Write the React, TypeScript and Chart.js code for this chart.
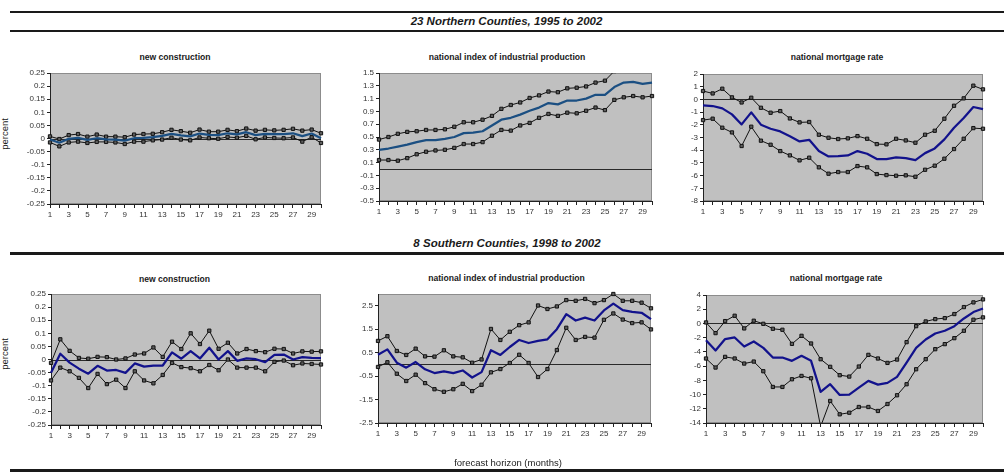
import React, { useEffect, useRef } from "react";
import { Chart, registerables } from "chart.js";

Chart.register(...registerables);
Chart.defaults.font.family = "'Liberation Sans', Arial, sans-serif";

// Forecast horizon in months
const horizon = [
  "1", "2", "3", "4", "5", "6", "7", "8", "9", "10",
  "11", "12", "13", "14", "15", "16", "17", "18", "19", "20",
  "21", "22", "23", "24", "25", "26", "27", "28", "29", "30",
];

// ---- 23 Northern Counties, 1995 to 2002 ----
const northConstrUpper = [0.008, -0.002, 0.013, 0.017, 0.007, 0.015, 0.007, 0.007, 0.005, 0.015, 0.017, 0.018, 0.024, 0.033, 0.028, 0.022, 0.034, 0.026, 0.026, 0.033, 0.028, 0.038, 0.03, 0.033, 0.031, 0.033, 0.037, 0.03, 0.034, 0.02];
const northConstrMid = [-0.004, -0.016, -0.001, 0.002, -0.005, 0.001, -0.003, -0.004, -0.008, 0.001, 0.002, 0.005, 0.01, 0.018, 0.012, 0.008, 0.019, 0.014, 0.013, 0.02, 0.016, 0.024, 0.013, 0.018, 0.017, 0.017, 0.02, 0.009, 0.019, 0.001];
const northConstrLower = [-0.015, -0.03, -0.015, -0.012, -0.017, -0.013, -0.013, -0.015, -0.021, -0.012, -0.012, -0.007, -0.004, 0.003, -0.004, -0.007, 0.004, 0.001, -0.001, 0.006, 0.003, 0.01, -0.003, 0.004, 0.002, 0.001, 0.004, -0.012, 0.005, -0.017];

const northIndUpper = [0.46, 0.5, 0.55, 0.58, 0.59, 0.61, 0.61, 0.62, 0.66, 0.73, 0.73, 0.77, 0.83, 0.94, 1.0, 1.04, 1.11, 1.15, 1.21, 1.2, 1.26, 1.27, 1.29, 1.35, 1.38, 1.53, 1.6, 1.62, 1.58, 1.6];
const northIndMid = [0.3, 0.32, 0.35, 0.38, 0.42, 0.45, 0.45, 0.47, 0.5, 0.56, 0.57, 0.59, 0.68, 0.77, 0.8, 0.85, 0.91, 0.96, 1.03, 1.01, 1.07, 1.07, 1.1, 1.16, 1.16, 1.28, 1.35, 1.36, 1.33, 1.35];
const northIndLower = [0.14, 0.14, 0.13, 0.17, 0.23, 0.27, 0.29, 0.3, 0.33, 0.39, 0.39, 0.42, 0.52, 0.61, 0.6, 0.68, 0.72, 0.8, 0.86, 0.83, 0.88, 0.87, 0.91, 0.96, 0.92, 1.08, 1.12, 1.14, 1.12, 1.14];

const northMortUpper = [0.66, 0.47, 0.84, 0.16, -0.24, 0.13, -0.66, -1.05, -0.92, -1.5, -1.81, -1.78, -2.78, -3.02, -3.12, -3.07, -2.89, -3.1, -3.52, -3.54, -3.1, -3.23, -3.41, -2.78, -2.47, -1.52, -0.5, 0.08, 1.08, 0.79];
const northMortMid = [-0.47, -0.52, -0.71, -1.18, -1.97, -1.02, -1.99, -2.31, -2.52, -2.91, -3.31, -3.18, -4.07, -4.49, -4.46, -4.41, -4.07, -4.28, -4.7, -4.7, -4.57, -4.62, -4.78, -4.23, -3.86, -3.15, -2.23, -1.47, -0.6, -0.76];
const northMortLower = [-1.63, -1.52, -2.23, -2.6, -3.67, -2.15, -3.25, -3.57, -4.07, -4.41, -4.8, -4.59, -5.35, -5.85, -5.72, -5.72, -5.25, -5.35, -5.88, -5.96, -6.01, -5.98, -6.09, -5.54, -5.22, -4.67, -3.91, -3.1, -2.26, -2.31];

// ---- 8 Southern Counties, 1998 to 2002 ----
const southConstrUpper = [-0.013, 0.077, 0.033, 0.006, 0.003, 0.01, 0.009, 0, 0.004, 0.019, 0.023, 0.046, 0.01, 0.068, 0.04, 0.1, 0.059, 0.11, 0.041, 0.064, 0.023, 0.04, 0.032, 0.028, 0.041, 0.04, 0.023, 0.031, 0.03, 0.031];
const southConstrMid = [-0.051, 0.022, -0.012, -0.035, -0.054, -0.024, -0.042, -0.04, -0.051, -0.015, -0.027, -0.023, -0.023, 0.027, 0.003, 0.032, 0.004, 0.045, 0, 0.032, -0.005, 0.004, 0.001, -0.01, 0.018, 0.019, 0, 0.009, 0.006, 0.005];
const southConstrLower = [-0.08, -0.031, -0.045, -0.07, -0.109, -0.055, -0.094, -0.077, -0.109, -0.045, -0.08, -0.091, -0.059, -0.013, -0.029, -0.033, -0.045, -0.021, -0.041, 0, -0.031, -0.031, -0.031, -0.045, -0.009, -0.004, -0.022, -0.015, -0.017, -0.019];

const southIndUpper = [1.0, 1.2, 0.57, 0.4, 0.67, 0.34, 0.33, 0.6, 0.34, 0.3, 0.07, 0.21, 1.51, 1.04, 1.39, 1.67, 1.79, 2.51, 2.36, 2.47, 2.74, 2.71, 2.79, 2.61, 2.74, 3.0, 2.71, 2.71, 2.63, 2.39];
const southIndMid = [0.41, 0.64, 0.07, -0.14, 0.1, -0.21, -0.37, -0.3, -0.37, -0.26, -0.56, -0.33, 0.6, 0.4, 0.74, 1.04, 0.91, 1.0, 1.07, 1.5, 2.14, 1.87, 1.99, 1.87, 2.3, 2.59, 2.31, 2.24, 2.2, 1.93];
const southIndLower = [-0.11, 0.09, -0.4, -0.71, -0.44, -0.8, -1.06, -1.17, -1.06, -0.83, -1.14, -0.87, -0.34, -0.2, 0.06, 0.41, 0.06, -0.54, -0.2, 0.61, 1.56, 1.04, 1.17, 1.14, 1.9, 2.17, 1.91, 1.76, 1.79, 1.49];

const southMortUpper = [0.14, -1.36, 0.33, 1.08, -0.7, 0.38, -0.05, -0.75, -0.89, -2.87, -1.74, -2.82, -5.03, -6.1, -7.28, -7.47, -6.06, -4.42, -4.93, -5.55, -5.08, -2.63, -0.38, 0.28, 0.61, 0.75, 1.32, 2.3, 2.96, 3.38];
const southMortMid = [-2.35, -3.8, -2.2, -1.97, -3.24, -2.54, -3.43, -4.79, -4.79, -5.26, -4.56, -5.26, -9.63, -8.55, -10.05, -10.0, -9.02, -8.08, -8.6, -8.36, -7.52, -5.5, -3.43, -2.26, -1.41, -1.03, -0.38, 0.7, 1.6, 2.11];
const southMortLower = [-4.93, -6.2, -4.7, -4.93, -5.64, -5.36, -6.72, -8.93, -8.93, -7.85, -7.38, -7.71, -14.5, -10.9, -12.78, -12.55, -11.75, -11.75, -12.31, -11.33, -10.1, -8.55, -6.44, -5.03, -3.62, -2.91, -2.07, -1.03, 0.52, 0.85];

// ---- Value-axis tick labels ----
const constrTicks = [-0.25, -0.2, -0.15, -0.1, -0.05, 0, 0.05, 0.1, 0.15, 0.2, 0.25];
const northIndTicks = [-0.5, -0.3, -0.1, 0.1, 0.3, 0.5, 0.7, 0.9, 1.1, 1.3, 1.5];
const northMortTicks = [-8, -7, -6, -5, -4, -3, -2, -1, 0, 1, 2];
const southIndTicks = [-2.5, -1.5, -0.5, 0.5, 1.5, 2.5];
const southMortTicks = [-14, -12, -10, -8, -6, -4, -2, 0, 2, 4];

const TEAL_BLUE = "#1b4f82";
const NAVY = "#12128c";
const TEXT = "#1a1a1a";

// Gray plot area, frame and zero reference line
const plotFrame = {
  id: "plotFrame",
  beforeDraw(chart: any) {
    const { ctx, chartArea: a } = chart;
    ctx.save();
    ctx.fillStyle = "#c0c0c0";
    ctx.fillRect(a.left, a.top, a.right - a.left, a.bottom - a.top);
    ctx.strokeStyle = "#8c8c8c";
    ctx.lineWidth = 1;
    ctx.strokeRect(a.left + 0.5, a.top + 0.5, a.right - a.left - 1, a.bottom - a.top - 1);
    ctx.restore();
  },
  beforeDatasetsDraw(chart: any) {
    const { ctx, chartArea: a } = chart;
    const y = chart.scales.y;
    if (0 > y.min && 0 < y.max) {
      const py = Math.round(y.getPixelForValue(0)) + 0.5;
      ctx.save();
      ctx.strokeStyle = "#2a2a2a";
      ctx.lineWidth = 1;
      ctx.beginPath();
      ctx.moveTo(a.left, py);
      ctx.lineTo(a.right, py);
      ctx.stroke();
      ctx.restore();
    }
  },
};

type Box = { left: number; top: number; right: number; bottom: number };

type PanelProps = {
  box: Box;
  upper: number[];
  mid: number[];
  lower: number[];
  min: number;
  max: number;
  ticks: number[];
  midColor: string;
  clipTop: number;
};

const YW = 48; // value-axis width
const XH = 22; // category-axis height
const PT = 8; // top padding
const PR = 10; // right padding

function Panel({ box, upper, mid, lower, min, max, ticks, midColor, clipTop }: PanelProps) {
  const ref = useRef<HTMLCanvasElement>(null);
  const width = box.right - box.left + YW + PR;
  const height = box.bottom - box.top + PT + XH;

  useEffect(() => {
    const clip = { left: 6, right: 6, top: clipTop, bottom: 0 };
    const bandStyle = {
      borderColor: "#111",
      borderWidth: 1,
      pointStyle: "rect" as const,
      pointRadius: 2.3,
      pointBackgroundColor: "#5e5e5e",
      pointBorderColor: "#111",
      pointBorderWidth: 1,
      tension: 0,
      clip,
    };
    const tickFont = { size: 8 };
    const chart = new Chart(ref.current as HTMLCanvasElement, {
      type: "line",
      data: {
        labels: horizon,
        datasets: [
          {
            data: mid,
            borderColor: midColor,
            borderWidth: 2.25,
            borderJoinStyle: "round",
            pointRadius: 0,
            tension: 0,
            clip,
          },
          { data: upper, ...bandStyle },
          { data: lower, ...bandStyle },
        ],
      },
      options: {
        animation: false,
        responsive: false,
        events: [],
        layout: { padding: { top: PT, right: PR, left: 0, bottom: 0 } },
        plugins: { legend: { display: false }, tooltip: { enabled: false }, title: { display: false } },
        scales: {
          x: {
            type: "category",
            offset: false,
            grid: { drawOnChartArea: false, drawTicks: true, tickLength: 4, tickColor: "#222" },
            border: { display: true, color: "#222", width: 1 },
            ticks: {
              autoSkip: false,
              maxRotation: 0,
              minRotation: 0,
              padding: 2,
              color: "#333",
              font: tickFont,
              callback: (_v: any, i: number) => (i % 2 === 0 ? horizon[i] : ""),
            },
            afterFit: (s: any) => {
              s.height = XH;
            },
          },
          y: {
            min,
            max,
            grid: { drawOnChartArea: false, drawTicks: true, tickLength: 3, tickColor: "#222" },
            border: { display: true, color: "#222", width: 1 },
            ticks: {
              padding: 2,
              color: "#333",
              font: tickFont,
              callback: (v: any) => String(v),
            },
            afterBuildTicks: (s: any) => {
              s.ticks = ticks.map((v) => ({ value: v }));
            },
            afterFit: (s: any) => {
              s.width = YW;
            },
          },
        },
      } as any,
      plugins: [plotFrame],
    });
    return () => chart.destroy();
  }, []);

  return (
    <canvas
      ref={ref}
      width={width}
      height={height}
      style={{ position: "absolute", left: box.left - YW, top: box.top - PT, width, height }}
    />
  );
}

function Rule({ top, height }: { top: number; height: number }) {
  return (
    <div style={{ position: "absolute", left: 10, width: 994, top, height, background: "#1a1a1a" }} />
  );
}

function Label({
  x,
  y,
  text,
  size,
  bold,
  italic,
  rotate,
}: {
  x: number;
  y: number;
  text: string;
  size: number;
  bold?: boolean;
  italic?: boolean;
  rotate?: boolean;
}) {
  return (
    <div
      style={{
        position: "absolute",
        left: x,
        top: y,
        transform: `translate(-50%, -50%)${rotate ? " rotate(-90deg)" : ""}`,
        whiteSpace: "nowrap",
        fontSize: size,
        lineHeight: 1,
        fontWeight: bold ? 700 : 400,
        fontStyle: italic ? "italic" : "normal",
        color: TEXT,
      }}
    >
      {text}
    </div>
  );
}

export default function App() {
  return (
    <div
      style={{
        position: "fixed",
        left: 0,
        top: 0,
        width: 1008,
        height: 476,
        background: "#fff",
        overflow: "hidden",
        fontFamily: "'Liberation Sans', Arial, sans-serif",
      }}
    >
      <Rule top={11} height={2} />
      <Label x={506.5} y={21.5} text="23 Northern Counties, 1995 to 2002" size={11.5} bold italic />
      <Rule top={30} height={2} />

      <Label x={175} y={57} text="new construction" size={8.6} bold />
      <Label x={507} y={57} text="national index of industrial production" size={8.6} bold />
      <Label x={837} y={57} text="national mortgage rate" size={8.6} bold />
      <Label x={5} y={134} text="percent" size={9.5} rotate />

      <Panel
        box={{ left: 50, top: 73, right: 321, bottom: 204 }}
        upper={northConstrUpper}
        mid={northConstrMid}
        lower={northConstrLower}
        min={-0.25}
        max={0.25}
        ticks={constrTicks}
        midColor={TEAL_BLUE}
        clipTop={3}
      />
      <Panel
        box={{ left: 379, top: 73, right: 652, bottom: 201 }}
        upper={northIndUpper}
        mid={northIndMid}
        lower={northIndLower}
        min={-0.5}
        max={1.5}
        ticks={northIndTicks}
        midColor={TEAL_BLUE}
        clipTop={0}
      />
      <Panel
        box={{ left: 703, top: 74, right: 983, bottom: 201 }}
        upper={northMortUpper}
        mid={northMortMid}
        lower={northMortLower}
        min={-8}
        max={2}
        ticks={northMortTicks}
        midColor={NAVY}
        clipTop={3}
      />

      <Label x={507} y={244} text="8 Southern Counties, 1998 to 2002" size={11.5} bold italic />
      <Rule top={252} height={3} />

      <Label x={174.5} y={279} text="new construction" size={8.6} bold />
      <Label x={506.5} y={278} text="national index of industrial production" size={8.6} bold />
      <Label x={836} y={278} text="national mortgage rate" size={8.6} bold />
      <Label x={5} y={354} text="percent" size={9.5} rotate />

      <Panel
        box={{ left: 51, top: 294, right: 321, bottom: 425 }}
        upper={southConstrUpper}
        mid={southConstrMid}
        lower={southConstrLower}
        min={-0.25}
        max={0.25}
        ticks={constrTicks}
        midColor={NAVY}
        clipTop={3}
      />
      <Panel
        box={{ left: 378, top: 294, right: 651, bottom: 423 }}
        upper={southIndUpper}
        mid={southIndMid}
        lower={southIndLower}
        min={-2.5}
        max={3}
        ticks={southIndTicks}
        midColor={NAVY}
        clipTop={3}
      />
      <Panel
        box={{ left: 706, top: 295, right: 983, bottom: 423 }}
        upper={southMortUpper}
        mid={southMortMid}
        lower={southMortLower}
        min={-14}
        max={4}
        ticks={southMortTicks}
        midColor={NAVY}
        clipTop={3}
      />

      <Label x={508} y={463} text="forecast horizon (months)" size={9.5} />
      <Rule top={469} height={3} />
    </div>
  );
}
